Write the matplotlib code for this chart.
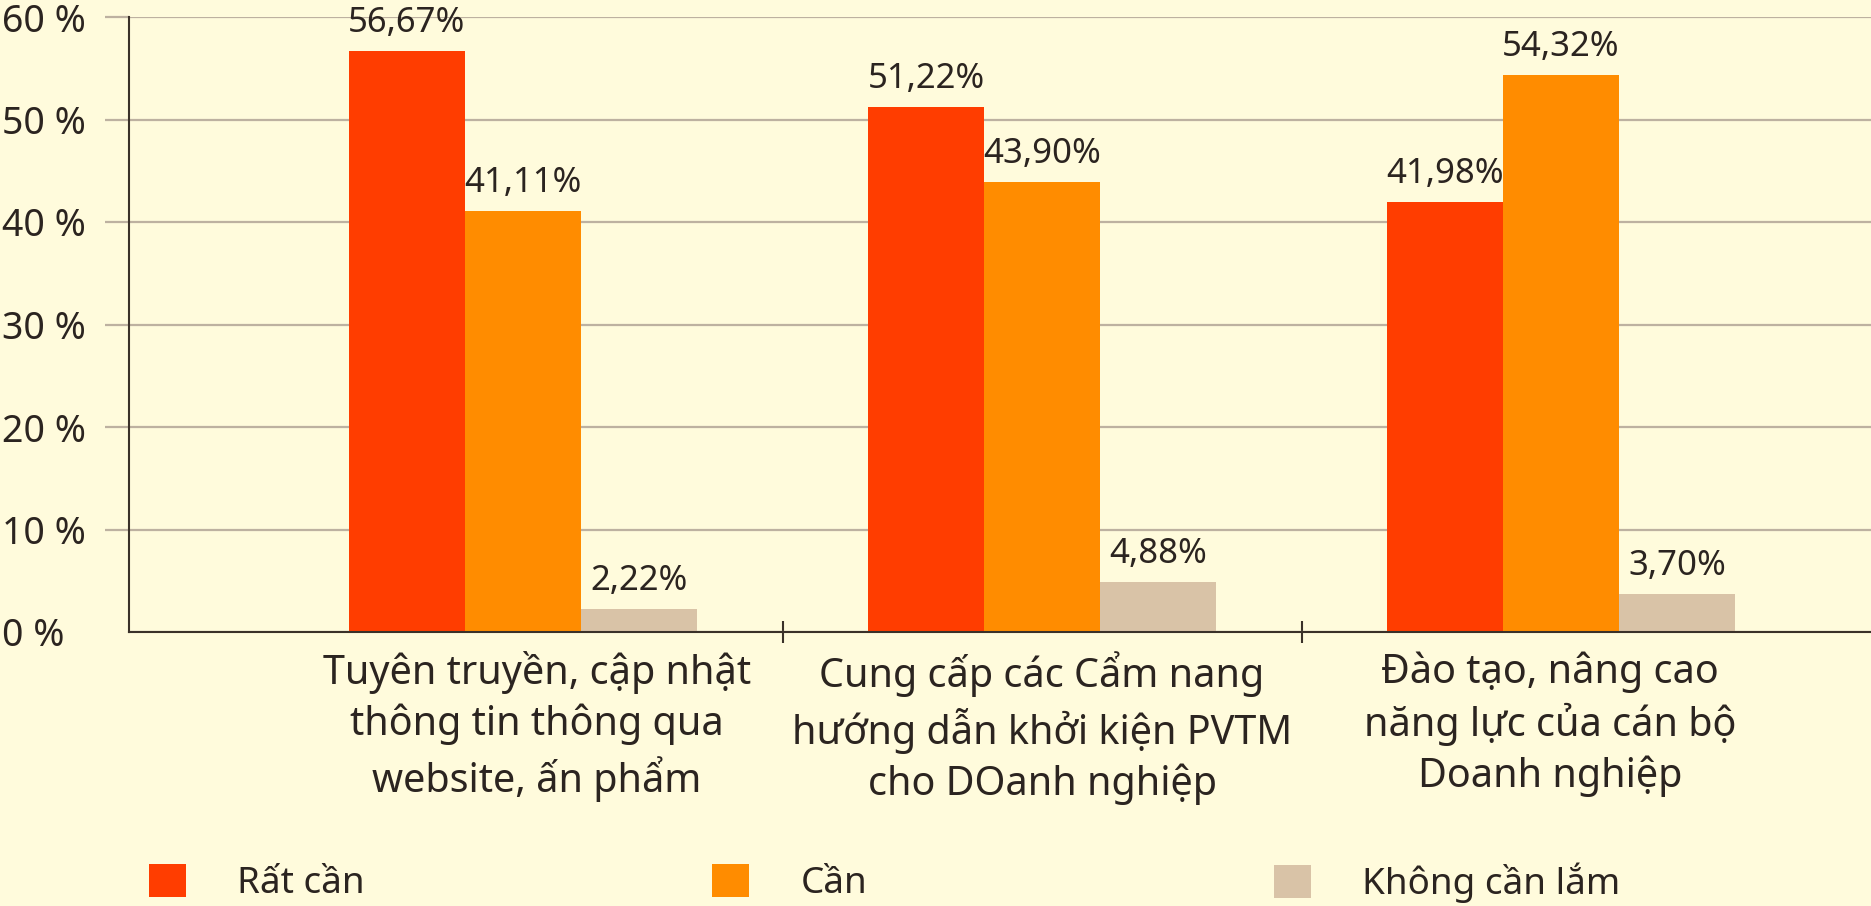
import matplotlib
matplotlib.use('Agg')
import matplotlib.pyplot as plt
import matplotlib.transforms as mtransforms
from matplotlib.patches import Patch

categories = ["Tuyên truyền, cập nhật\nthông tin thông qua\nwebsite, ấn phẩm",
              "Cung cấp các Cẩm nang\nhướng dẫn khởi kiện PVTM\ncho DOanh nghiệp",
              "Đào tạo, nâng cao\nnăng lực của cán bộ\nDoanh nghiệp"]
series_names = ["Rất cần", "Cần", "Không cần lắm"]
rat_can = [56.67, 51.22, 41.98]
can = [41.11, 43.90, 54.32]
khong_can_lam = [2.22, 4.88, 3.70]
y_ticks = [0, 10, 20, 30, 40, 50, 60]
y_tick_labels = ["0 %", "10 %", "20 %", "30 %", "40 %", "50 %", "60 %"]

colors = ["#FF3D00", "#FF8C00", "#D9C3A7"]
bg = "#FFFBDC"
grid_c = "#BDB1A0"
axis_c = "#3A3129"
text_c = "#2B2420"
FS_VAL = 25
FS_Y = 27
FS_CAT = 28.5
FS_LEG = 26.5

plt.rcParams['font.family'] = ['Noto Sans', 'DejaVu Sans']
plt.rcParams['text.color'] = text_c

W, H = 1871, 906
fig = plt.figure(figsize=(W / 100, H / 100), dpi=100, facecolor=bg)
ax = fig.add_axes([129 / W, 1 - 632 / H, 1 - 129 / W, (632 - 17) / H])
ax.set_facecolor(bg)

series = [rat_can, can, khong_can_lam]
bw = 0.2235
x = list(range(len(categories)))
for i, (vals, c) in enumerate(zip(series, colors)):
    xs = [xi + (i - 1) * bw for xi in x]
    ax.bar(xs, vals, width=bw, color=c, zorder=2, linewidth=0)
    for xx, v in zip(xs, vals):
        ax.annotate(f"{v:.2f}".replace('.', ',') + "%", (xx, v), xytext=(0, 8),
                    textcoords='offset points', ha='center', va='bottom',
                    fontsize=FS_VAL, color=text_c, zorder=3)

ax.set_xlim(-0.759, 2.597)
ax.set_ylim(0, 60)

for s in ['top', 'right']:
    ax.spines[s].set_visible(False)
for s in ['left', 'bottom']:
    ax.spines[s].set_color(axis_c)
    ax.spines[s].set_linewidth(1.5)
    ax.spines[s].set_zorder(4)

ax.set_axisbelow(True)
ax.yaxis.grid(True, color=grid_c, linewidth=1.6)

ax.set_yticks(y_ticks)
ax.set_yticklabels(y_tick_labels, fontsize=FS_Y, color=text_c)
ax.tick_params(axis='y', direction='out', length=17, width=1.6, color=grid_c, pad=74.4)
for lab in ax.get_yticklabels():
    lab.set_ha('left')
ax.yaxis.get_major_ticks()[0].tick1line.set_visible(False)

ax.set_xticks(x)
ax.set_xticklabels(categories, fontsize=FS_CAT, color=text_c, linespacing=1.3)
ax.tick_params(axis='x', which='major', length=0, pad=14)
ax.set_xticks([0.5, 1.5], minor=True)
ax.tick_params(axis='x', which='minor', direction='inout', length=16, width=1.5, color=axis_c)

# small horizontal nudges of the category label blocks (pixels)
label_shift_px = [14, 0, -11]
for lab, dx in zip(ax.get_xticklabels(), label_shift_px):
    lab.set_transform(lab.get_transform() +
                      mtransforms.ScaledTranslation(dx / 100, 0, fig.dpi_scale_trans))

leg_x = [149 / W, 712 / W, 1274 / W]
for name, c, lx in zip(series_names, colors, leg_x):
    fig.legend(handles=[Patch(facecolor=c, edgecolor='none')], labels=[name],
               loc='center left', bbox_to_anchor=(lx, 1 - 883 / H), frameon=False,
               handlelength=1.0, handleheight=1.0, handletextpad=1.4,
               borderpad=0, borderaxespad=0, fontsize=FS_LEG, labelcolor=text_c)

fig.savefig('out.png', dpi=100, facecolor=bg)
